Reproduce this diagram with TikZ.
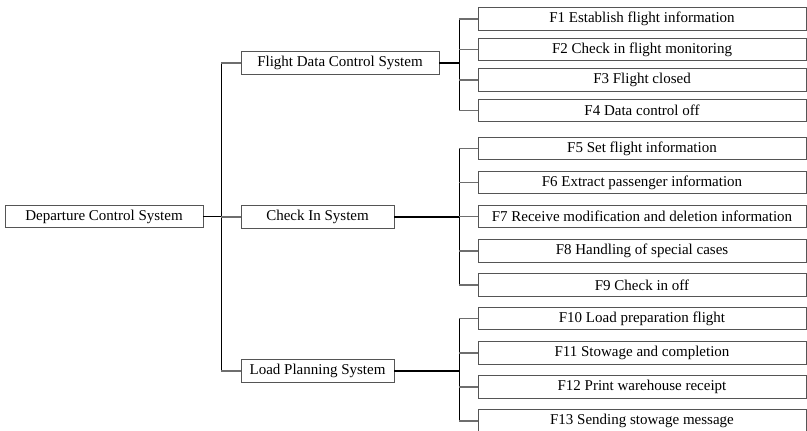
\documentclass[tikz,border=0pt]{standalone}
\usepackage{fontspec}
\setmainfont{Liberation Serif}
\usepackage{tikz}
\usepackage{xcolor}

\definecolor{boxgray}{RGB}{85,85,85}
\definecolor{tickgray}{RGB}{110,110,110}

\tikzset{
  sysbox/.style={draw=boxgray, line width=0.9pt, fill=white, inner sep=0pt,
    minimum height=22.5pt, font=\fontsize{15}{18}\selectfont},
  funcbox/.style={sysbox, minimum width=328pt},
  trunk/.style={black, line width=1.8pt},
  spine/.style={black, line width=1pt},
  tick/.style={tickgray, line width=1.1pt}
}

\begin{document}
\begin{tikzpicture}[x=1pt, y=-1pt]
        \useasboundingbox (0, 0) rectangle (807, 431);
        % root and subsystems
        \node[sysbox, minimum width=198pt] (dcs) at (104, 216.5) {Departure Control System};
        \node[sysbox, minimum width=198pt] (fdcs) at (340, 63) {Flight Data Control System};
        \node[sysbox, minimum width=153pt] (cis) at (317.5, 217) {Check In System};
        \node[sysbox, minimum width=153pt] (lps) at (317.5, 371) {Load Planning System};
        % functions
        \node[funcbox] (f1) at (642, 19) {F1 Establish flight information};
        \node[funcbox] (f2) at (642, 49.5) {F2 Check in flight monitoring};
        \node[funcbox] (f3) at (642, 80) {F3 Flight closed};
        \node[funcbox] (f4) at (642, 110.5) {F4 Data control off};
        \node[funcbox] (f5) at (642, 148.5) {F5 Set flight information};
        \node[funcbox] (f6) at (642, 182.5) {F6 Extract passenger information};
        \node[funcbox] (f7) at (642, 216.5) {F7 Receive modification and deletion information};
        \node[funcbox] (f8) at (642, 251) {F8 Handling of special cases};
        \node[funcbox] (f9) at (642, 285) {F9 Check in off};
        \node[funcbox] (f10) at (642, 318.5) {F10 Load preparation flight};
        \node[funcbox] (f11) at (642, 353) {F11 Stowage and completion};
        \node[funcbox] (f12) at (642, 387) {F12 Print warehouse receipt};
        \node[funcbox] (f13) at (642, 421) {F13 Sending stowage message};
        % first level
        \coordinate (s0) at (221, 216.5);
        \draw[trunk] (dcs.east) -- (s0);
        \draw[spine] (s0 |- fdcs) -- (s0 |- lps);
        \draw[tick] (s0 |- fdcs) -- (fdcs.west);
        \draw[tick] (s0 |- cis) -- (cis.west);
        \draw[tick] (s0 |- lps) -- (lps.west);
        % flight data control
        \coordinate (s1) at (459, 63);
        \draw[trunk] (fdcs.east) -- (s1);
        \draw[spine] (s1 |- f1) -- (s1 |- f4);
        \draw[tick] (s1 |- f1) -- (f1.west);
        \draw[tick] (s1 |- f2) -- (f2.west);
        \draw[tick] (s1 |- f3) -- (f3.west);
        \draw[tick] (s1 |- f4) -- (f4.west);
        % check in
        \coordinate (s2) at (459, 217);
        \draw[trunk] (cis.east) -- (s2);
        \draw[spine] (s2 |- f5) -- (s2 |- f9);
        \draw[tick] (s2 |- f5) -- (f5.west);
        \draw[tick] (s2 |- f6) -- (f6.west);
        \draw[tick] (s2 |- f7) -- (f7.west);
        \draw[tick] (s2 |- f8) -- (f8.west);
        \draw[tick] (s2 |- f9) -- (f9.west);
        % load planning
        \coordinate (s3) at (459, 371);
        \draw[trunk] (lps.east) -- (s3);
        \draw[spine] (s3 |- f10) -- (s3 |- f13);
        \draw[tick] (s3 |- f10) -- (f10.west);
        \draw[tick] (s3 |- f11) -- (f11.west);
        \draw[tick] (s3 |- f12) -- (f12.west);
        \draw[tick] (s3 |- f13) -- (f13.west);
\end{tikzpicture}
\end{document}
